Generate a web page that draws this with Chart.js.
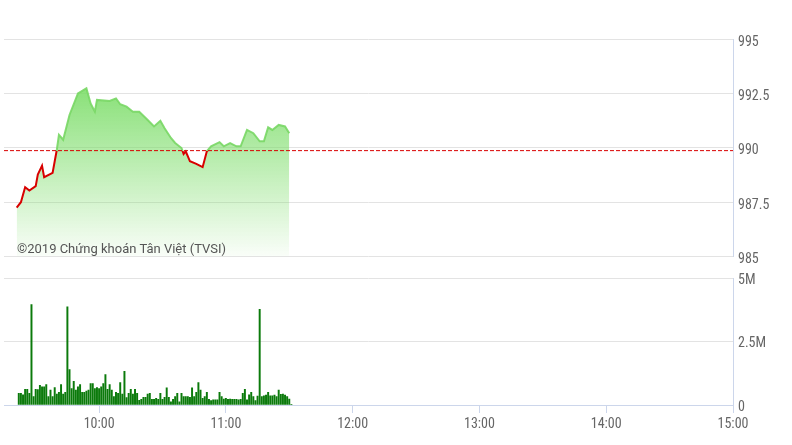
<!DOCTYPE html>
<html lang="vi">
<head>
<meta charset="UTF-8">
<title>VN-Index intraday</title>
<style>
    body { margin: 0; background: #fff; }
    #wrap { position: relative; width: 792px; height: 445px; overflow: hidden; }
    .panel { position: absolute; left: 0; width: 792px; }
    .credit {
        position: absolute;
        left: 17px;
        top: 241px;
        font: 13px Roboto, "Noto Sans", sans-serif;
        line-height: 16px;
        color: #555;
        white-space: nowrap;
    }
</style>
<script src="https://cdn.jsdelivr.net/npm/chart.js@4"></script>
</head>
<body>
<div id="wrap">
    <div class="panel" style="top:0;height:270px"><canvas id="priceChart" width="792" height="270"></canvas></div>
    <div class="panel" style="top:265px;height:180px"><canvas id="volChart" width="792" height="180"></canvas></div>
    <div class="credit">©2019 Chứng khoán Tân Việt (TVSI)</div>
</div>
<script>
// price line (index points)
const priceTimes = ['09:21','09:23','09:25','09:27','09:30','09:31','09:33','09:34','09:38','09:39',
    '09:40','09:41','09:43','09:46','09:50','09:54','09:56','09:58','09:59','10:05',
    '10:08','10:10','10:13','10:16','10:19','10:23','10:26','10:29','10:31','10:34',
    '10:36','10:39','10:40','10:41','10:43','10:46','10:49','10:51','10:53','10:57',
    '10:59','11:02','11:05','11:07','11:10','11:13','11:16','11:18','11:20','11:22',
    '11:25','11:28','11:30'];
const priceValues = [987.25, 987.5, 988.19, 988.04, 988.24, 988.77, 989.18, 988.65, 988.85, 989.38,
    989.91, 990.6, 990.37, 991.51, 992.5, 992.73, 992.04, 991.66, 992.2, 992.15,
    992.27, 992.0, 991.89, 991.66, 991.66, 991.28, 990.98, 991.24, 990.9, 990.45,
    990.22, 989.99, 989.72, 989.84, 989.38, 989.26, 989.11, 989.84, 990.07, 990.26,
    990.07, 990.22, 990.07, 990.07, 990.82, 990.67, 990.3, 990.3, 990.94, 990.82,
    991.05, 990.98, 990.67];
const refPrice = 989.87;   // previous close

// volume per minute, millions of shares
const volTimes = [
    '09:22','09:23','09:24','09:25','09:26','09:27','09:28','09:29','09:30','09:31',
    '09:32','09:33','09:34','09:35','09:36','09:37','09:38','09:39','09:40','09:41',
    '09:42','09:43','09:44','09:45','09:46','09:47','09:48','09:49','09:50','09:51',
    '09:52','09:53','09:54','09:55','09:56','09:57','09:58','09:59','10:00','10:01',
    '10:02','10:03','10:04','10:05','10:06','10:07','10:08','10:09','10:10','10:11',
    '10:12','10:13','10:14','10:15','10:16','10:17','10:18','10:19','10:20','10:21',
    '10:22','10:23','10:24','10:25','10:26','10:27','10:28','10:29','10:30','10:31',
    '10:32','10:33','10:34','10:35','10:36','10:37','10:38','10:39','10:40','10:41',
    '10:42','10:43','10:44','10:45','10:46','10:47','10:48','10:49','10:50','10:51',
    '10:52','10:53','10:54','10:55','10:56','10:57','10:58','10:59','11:00','11:01',
    '11:02','11:03','11:04','11:05','11:06','11:07','11:08','11:09','11:10','11:11',
    '11:12','11:13','11:14','11:15','11:16','11:17','11:18','11:19','11:20','11:21',
    '11:22','11:23','11:24','11:25','11:26','11:27','11:28','11:29','11:30','11:31'];
const volValues = [
    0.46, 0.46, 0.40, 0.62, 0.62, 0.46, 3.97, 0.33, 0.62, 0.61,
    0.78, 0.72, 0.72, 0.81, 0.33, 0.59, 0.33, 0.69, 0.43, 0.50,
    0.81, 0.43, 0.50, 3.88, 1.40, 0.65, 0.93, 0.59, 0.72, 0.81,
    0.50, 0.50, 0.55, 0.59, 0.85, 0.85, 0.65, 0.69, 0.65, 0.72,
    0.85, 1.20, 0.62, 0.81, 0.59, 0.33, 0.50, 0.46, 0.89, 0.43,
    1.33, 0.29, 0.46, 0.62, 0.43, 0.62, 0.46, 0.18, 0.22, 0.30,
    0.30, 0.43, 0.46, 0.22, 0.22, 0.26, 0.22, 0.46, 0.22, 0.30,
    0.68, 0.30, 0.13, 0.22, 0.33, 0.46, 0.13, 0.46, 0.33, 0.33,
    0.33, 0.30, 0.68, 0.33, 0.50, 0.89, 0.59, 0.26, 0.33, 0.50,
    0.22, 0.17, 0.20, 0.20, 0.20, 0.50, 0.33, 0.23, 0.26, 0.22,
    0.23, 0.22, 0.22, 0.22, 0.20, 0.22, 0.46, 0.62, 0.20, 0.40,
    0.50, 0.33, 0.17, 0.35, 3.78, 0.33, 0.36, 0.39, 0.50, 0.36,
    0.36, 0.39, 0.33, 0.59, 0.42, 0.43, 0.39, 0.33, 0.23, 0.03];

const sessionStart = '09:15';
const sessionEnd = '15:00';
const timeTicks = ['10:00', '11:00', '12:00', '13:00', '14:00', '15:00'];
const priceTicks = [985, 987.5, 990, 992.5, 995];
const volTicks = [0, 2.5, 5];

function toMin(s) {
    const [h, m] = s.split(':').map(Number);
    return h * 60 + m;
}
function fmtTime(v) {
    return Math.floor(v / 60) + ':' + String(v % 60).padStart(2, '0');
}

const axisFont = { family: "'Roboto Condensed', 'DejaVu Sans Condensed', sans-serif", size: 14 };
const gridColor = '#e3e3e3';
const axisColor = '#ccd6eb';
const xMin = toMin(sessionStart), xMax = toMin(sessionEnd);

Chart.defaults.animation = false;
Chart.defaults.color = '#666';

// top panel: price
new Chart(document.getElementById('priceChart'), {
    type: 'line',
    data: {
        datasets: [{
            data: [{ x: xMin, y: refPrice }, { x: xMax, y: refPrice }],
            borderColor: '#d80000',
            borderWidth: 1,
            borderDash: [4, 2],
            pointRadius: 0,
            order: 0
        }, {
            data: priceTimes.map((t, i) => ({ x: toMin(t), y: priceValues[i] })),
            borderWidth: 2,
            pointRadius: 0,
            tension: 0,
            fill: 'start',
            order: 1,
            borderColor: (c) => {
                const { chart } = c;
                const area = chart.chartArea;
                if (!area) return '#d80000';
                const yp = chart.scales.y.getPixelForValue(refPrice);
                const t = Math.min(1, Math.max(0, (yp - area.top) / (area.bottom - area.top)));
                const g = chart.ctx.createLinearGradient(0, area.top, 0, area.bottom);
                g.addColorStop(0, 'rgba(120,215,100,0.9)');
                g.addColorStop(t, 'rgba(120,215,100,0.9)');
                g.addColorStop(t, '#d80000');
                g.addColorStop(1, '#d80000');
                return g;
            },
            backgroundColor: (c) => {
                const { chart } = c;
                const area = chart.chartArea;
                if (!area) return 'rgba(120,220,100,0.5)';
                const top = chart.scales.y.getPixelForValue(992.8);
                const g = chart.ctx.createLinearGradient(0, top, 0, area.bottom);
                g.addColorStop(0, 'rgba(120,220,100,0.88)');
                g.addColorStop(1, 'rgba(120,220,100,0.04)');
                return g;
            }
        }]
    },
    options: {
        responsive: false,
        layout: { padding: { top: 39, left: 4, bottom: 11, right: 0 } },
        plugins: { legend: { display: false }, tooltip: { enabled: false } },
        scales: {
            x: { type: 'linear', min: xMin, max: xMax, display: false },
            y: {
                position: 'right',
                min: 985, max: 995,
                afterFit: (s) => { s.width = 59; },
                afterBuildTicks: (s) => { s.ticks = priceTicks.map(v => ({ value: v })); },
                ticks: { font: axisFont, padding: 5, labelOffset: 3, color: '#666', callback: (v) => String(v) },
                grid: { color: gridColor, drawTicks: false },
                border: { display: true, color: axisColor }
            }
        }
    }
});

// bottom panel: volume
new Chart(document.getElementById('volChart'), {
    type: 'bar',
    data: {
        datasets: [{
            data: volTimes.map((t, i) => ({ x: toMin(t), y: volValues[i] })),
            backgroundColor: '#0b7a0b',
            barThickness: 1.3
        }]
    },
    options: {
        responsive: false,
        layout: { padding: { top: 12, left: 4, bottom: 10, right: 0 } },
        plugins: { legend: { display: false }, tooltip: { enabled: false } },
        scales: {
            x: {
                type: 'linear', min: xMin, max: xMax, offset: false,
                afterFit: (s) => { s.height = 30; },
                afterBuildTicks: (s) => { s.ticks = timeTicks.map(t => ({ value: toMin(t) })); },
                ticks: { font: axisFont, padding: 3, color: '#666', maxRotation: 0, callback: (v) => fmtTime(v) },
                grid: { offset: false, drawOnChartArea: false, drawTicks: true, tickLength: 8, color: axisColor },
                border: { display: true, color: axisColor }
            },
            y: {
                position: 'right',
                min: 0, max: 5,
                afterFit: (s) => { s.width = 59; },
                afterBuildTicks: (s) => { s.ticks = volTicks.map(v => ({ value: v })); },
                ticks: { font: axisFont, padding: 5, labelOffset: 2, color: '#666', callback: (v) => v === 0 ? '0' : v + 'M' },
                grid: { color: gridColor, drawTicks: false },
                border: { display: true, color: axisColor }
            }
        }
    }
});
</script>
</body>
</html>
